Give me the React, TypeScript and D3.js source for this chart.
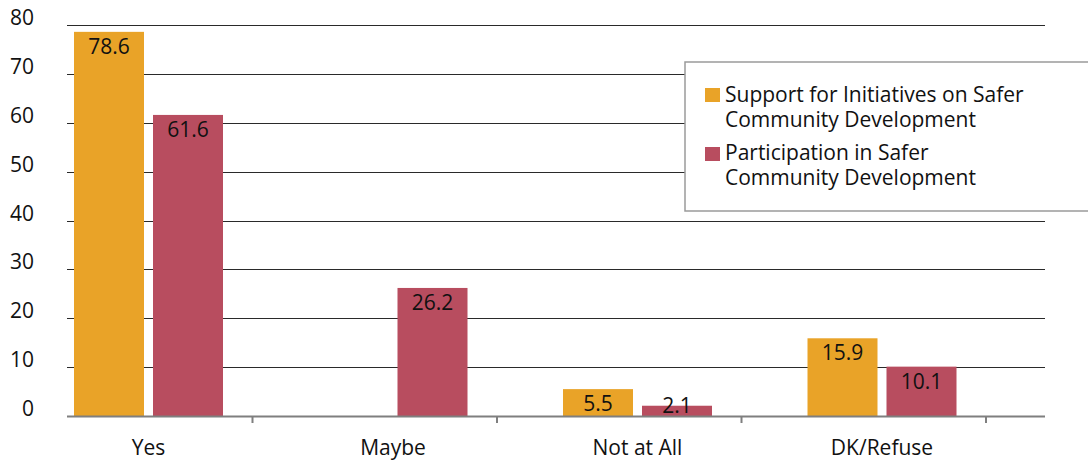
import React from "react";
import * as d3 from "d3";

const categories = ["Yes", "Maybe", "Not at All", "DK/Refuse"];
const seriesNames = [
  "Support for Initiatives on Safer Community Development",
  "Participation in Safer Community Development",
];
const legendLines = [
  ["Support for Initiatives on Safer", "Community Development"],
  ["Participation in Safer", "Community Development"],
];
const supportValues: (number | null)[] = [78.6, null, 5.5, 15.9];
const participationValues: (number | null)[] = [61.6, 26.2, 2.1, 10.1];
const yTicks = [0, 10, 20, 30, 40, 50, 60, 70, 80];
const colors = ["#E9A328", "#B84D5F"];

const W = 1088;
const H = 461;
const FONT = "'Open Sans', sans-serif";

export default function App() {
  const y = d3.scaleLinear().domain([0, 80]).range([416, 25]);
  const x = d3.scaleBand<string>().domain(categories).range([8, 986]).paddingInner(0).paddingOuter(0);
  const inner = d3.scaleBand<number>().domain([0, 1]).range([66, 215]).paddingInner(0.1139);
  const plotLeft = 67;
  const plotRight = 1045;
  const y0 = y(0);
  const series = [supportValues, participationValues];

  return (
    <svg
      width={W}
      height={H}
      style={{ position: "fixed", left: 0, top: 0, background: "#fff" }}
      fontFamily={FONT}
    >
      {/* gridlines */}
      {yTicks.filter((t) => t > 0).map((t) => (
        <line
          key={"g" + t}
          x1={plotLeft}
          x2={plotRight}
          y1={Math.round(y(t)) + 0.5}
          y2={Math.round(y(t)) + 0.5}
          stroke="#2a2a2a"
          strokeWidth={1.1}
        />
      ))}
      {/* y tick labels */}
      {yTicks.map((t) => (
        <text key={"t" + t} x={34} y={y(t)} textAnchor="end" fontSize={21} fill="#111">
          {t}
        </text>
      ))}
      {/* bars */}
      {categories.map((c, i) => (
        <g key={c}>
          {series.map((vals, s) => {
            const v = vals[i];
            if (v == null) return null;
            const bx = (x(c) as number) + (inner(s) as number);
            return (
              <rect
                key={s}
                x={bx}
                y={y(v)}
                width={inner.bandwidth()}
                height={y0 - y(v)}
                fill={colors[s]}
              />
            );
          })}
        </g>
      ))}
      {/* value labels */}
      {categories.map((c, i) => (
        <g key={"l" + c}>
          {series.map((vals, s) => {
            const v = vals[i];
            if (v == null) return null;
            const cx = (x(c) as number) + (inner(s) as number) + inner.bandwidth() / 2;
            return (
              <text
                key={s}
                x={cx}
                y={Math.min(y(v) + 22, y0 - 3)}
                textAnchor="middle"
                fontSize={21}
                fill="#111"
              >
                {v.toFixed(1)}
              </text>
            );
          })}
        </g>
      ))}
      {/* category axis */}
      <line x1={plotLeft} x2={plotRight} y1={y0 + 0.5} y2={y0 + 0.5} stroke="#7f7f7f" strokeWidth={2} />
      {categories.map((c) => (
        <line
          key={"tk" + c}
          x1={(x(c) as number) + x.step()}
          x2={(x(c) as number) + x.step()}
          y1={y0}
          y2={y0 + 7}
          stroke="#7f7f7f"
          strokeWidth={2}
        />
      ))}
      {categories.map((c) => (
        <text
          key={"c" + c}
          x={(x(c) as number) + (inner(0) as number) + (inner.range()[1] - inner.range()[0]) / 2}
          y={455}
          textAnchor="middle"
          fontSize={21}
          fill="#111"
        >
          {c}
        </text>
      ))}
      {/* legend */}
      <rect x={685} y={62} width={420} height={149} fill="#fff" stroke="#9a9a9a" strokeWidth={1.5} />
      {seriesNames.map((name, s) => (
        <g key={name}>
          <rect x={705} y={s === 0 ? 88 : 147} width={15} height={14} fill={colors[s]} />
          {legendLines[s].map((ln, k) => (
            <text key={k} x={725} y={(s === 0 ? 102 : 160) + k * 24.5} fontSize={21} fill="#111">
              {ln}
            </text>
          ))}
        </g>
      ))}
    </svg>
  );
}
